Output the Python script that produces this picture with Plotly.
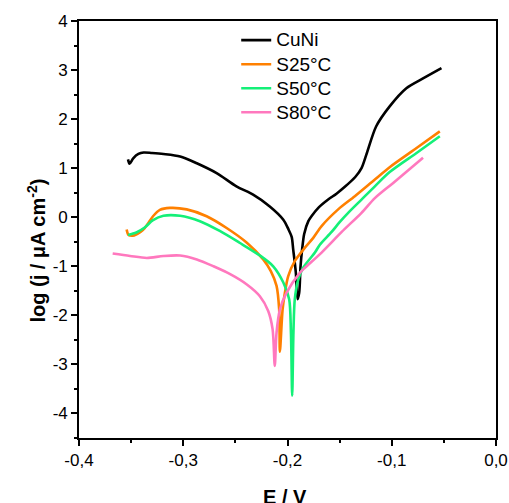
import plotly.graph_objects as go

# ---- data ----
cuni_E = [-0.3530, -0.3515, -0.3480, -0.3430, -0.3380, -0.3300, -0.3190, -0.3030, -0.2870,
          -0.2680, -0.2490, -0.2330, -0.2170, -0.2040, -0.1990, -0.1960, -0.1945, -0.1920,
          -0.1904, -0.1888, -0.1875, -0.1860, -0.1840, -0.1800, -0.1770, -0.1700, -0.1610,
          -0.1530, -0.1450, -0.1350, -0.1290, -0.1240, -0.1150, -0.1020, -0.0860, -0.0700,
          -0.0523]
cuni_logj = [1.18, 1.09, 1.20, 1.29, 1.32, 1.31, 1.29, 1.24, 1.10,
             0.90, 0.63, 0.46, 0.22, -0.05, -0.25, -0.40, -0.66, -1.13,
             -1.67, -1.54, -1.00, -0.66, -0.34, -0.08, 0.02, 0.20, 0.36,
             0.48, 0.62, 0.82, 1.00, 1.30, 1.85, 2.26, 2.63, 2.83,
             3.04]

s25_E = [-0.3543, -0.3525, -0.3470, -0.3410, -0.3370, -0.3330, -0.3290, -0.3224, -0.3128,
         -0.2967, -0.2776, -0.2584, -0.2390, -0.2233, -0.2160, -0.2105, -0.2080, -0.2073,
         -0.2047, -0.2025, -0.1993, -0.1929, -0.1833, -0.1753, -0.1673, -0.1514, -0.1354,
         -0.1162, -0.1020, -0.0762, -0.0539]
s25_logj = [-0.25, -0.36, -0.37, -0.30, -0.22, -0.10, 0.02, 0.15, 0.19,
            0.16, 0.02, -0.22, -0.52, -0.86, -1.10, -1.40, -1.88, -2.74,
            -1.88, -1.54, -1.20, -0.89, -0.62, -0.42, -0.18, 0.16, 0.43,
            0.77, 1.02, 1.41, 1.75]

s50_E = [-0.3530, -0.3450, -0.3370, -0.3290, -0.3190, -0.3030, -0.2840, -0.2650, -0.2460,
         -0.2265, -0.2137, -0.2040, -0.1984, -0.1967, -0.1955, -0.1943, -0.1930, -0.1897,
         -0.1850, -0.1737, -0.1690, -0.1577, -0.1500, -0.1418, -0.1290, -0.1162, -0.1020,
         -0.0762, -0.0539]
s50_logj = [-0.36, -0.31, -0.21, -0.06, 0.03, 0.03, -0.08, -0.28, -0.52,
            -0.78, -1.00, -1.33, -1.67, -2.35, -3.64, -2.35, -1.67, -1.27,
            -1.03, -0.72, -0.56, -0.30, -0.10, 0.09, 0.36, 0.63, 0.92,
            1.31, 1.65]

s80_E = [-0.3677, -0.3510, -0.3350, -0.3190, -0.3030, -0.2870, -0.2710, -0.2550, -0.2390,
         -0.2265, -0.2185, -0.2143, -0.2122, -0.2105, -0.2073, -0.2010, -0.1880, -0.1833,
         -0.1673, -0.1480, -0.1290, -0.1162, -0.0986, -0.0700]
s80_logj = [-0.74, -0.79, -0.83, -0.79, -0.78, -0.86, -1.00, -1.16, -1.37,
            -1.61, -1.91, -2.28, -3.03, -2.35, -1.88, -1.54, -1.13, -1.03,
            -0.72, -0.30, 0.09, 0.39, 0.70, 1.21]

series_names = ["CuNi", "S25°C", "S50°C", "S80°C"]
series_colors = ["#000000", "#FF8000", "#14F078", "#FF78BE"]

x_tickvals = [-0.4, -0.3, -0.2, -0.1, 0.0]
x_ticktext = ["-0,4", "-0,3", "-0,2", "-0,1", "0,0"]
y_tickvals = [-4, -3, -2, -1, 0, 1, 2, 3, 4]
y_ticktext = ["-4", "-3", "-2", "-1", "0", "1", "2", "3", "4"]

FONT = "Arial, 'Liberation Sans', sans-serif"

fig = go.Figure()
for E, lj, name, col in zip([cuni_E, s25_E, s50_E, s80_E],
                            [cuni_logj, s25_logj, s50_logj, s80_logj],
                            series_names, series_colors):
    fig.add_trace(go.Scatter(x=E, y=lj, mode="lines",
                             name='<span style="font-size:19px">' + name + '</span>',
                             line=dict(color=col, width=2.6, shape="spline", smoothing=0.8)))

axis_common = dict(
    showline=True, linecolor="black", linewidth=1.6, mirror=True,
    ticks="outside", ticklen=6, tickwidth=1.6, tickcolor="black",
    showgrid=False, zeroline=False, automargin=False,
    tickfont=dict(family=FONT, size=17, color="black"),
)

fig.update_xaxes(range=[-0.4, 0.0], tickvals=x_tickvals, ticktext=x_ticktext,
                 minor=dict(dtick=0.05, ticks="outside", ticklen=3, tickwidth=1.6,
                            tickcolor="black", showgrid=False),
                 **axis_common)
fig.update_yaxes(range=[-4.5, 4.0], tickvals=y_tickvals, ticktext=y_ticktext,
                 minor=dict(dtick=0.5, tick0=0, ticks="outside", ticklen=3, tickwidth=1.6,
                            tickcolor="black", showgrid=False),
                 **axis_common)

fig.update_layout(
    template="none",
    width=509, height=503, autosize=False,
    margin=dict(l=79, r=13, t=21, b=65, pad=0),
    plot_bgcolor="white", paper_bgcolor="white",
    font=dict(family=FONT, color="black"),
    showlegend=True,
    legend=dict(x=0.377, y=0.995, xanchor="left", yanchor="top",
                bgcolor="rgba(0,0,0,0)", borderwidth=0,
                font=dict(family=FONT, size=16.2, color="black"),
                tracegroupgap=0),
    annotations=[
        dict(text="<b>log (j / μA cm<sup>-2</sup>)</b>", xref="paper", yref="paper",
             x=-0.103, y=0.4496, xanchor="center", yanchor="middle",
             textangle=-90, showarrow=False,
             font=dict(family=FONT, size=20, color="black")),
        dict(text="<b>E / V</b>", xref="paper", yref="paper",
             x=0.494, y=-0.111, xanchor="center", yanchor="top",
             showarrow=False, font=dict(family=FONT, size=20, color="black")),
    ],
)

fig.write_html("out.html",
               config={"displayModeBar": False},
               post_script="document.body.style.margin='0';document.body.style.padding='0';"
                           "document.body.style.overflow='hidden';")
